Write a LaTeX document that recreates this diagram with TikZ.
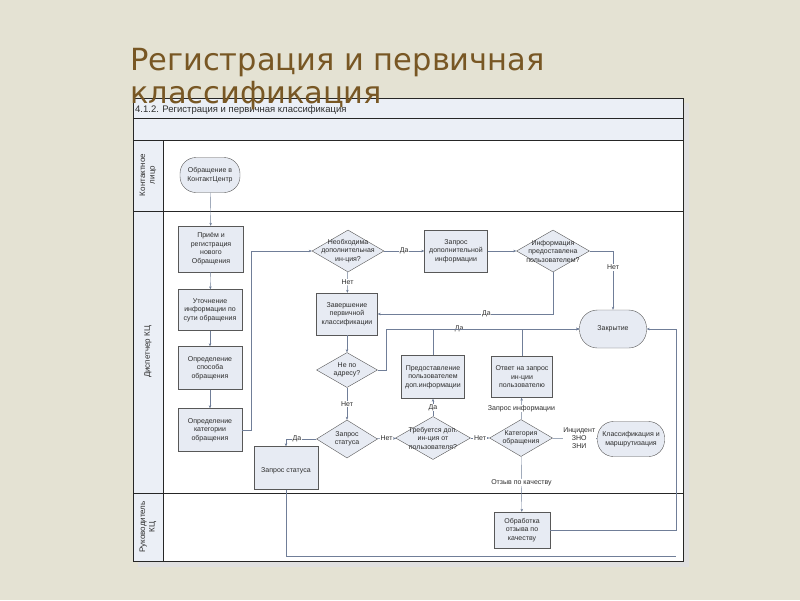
\documentclass[tikz,border=0pt]{standalone}
\usepackage{fontspec}
\setmainfont{Liberation Sans}
\newfontfamily\titlefont{DejaVu Sans}
\usetikzlibrary{shapes.geometric,arrows.meta}

\definecolor{paper}{RGB}{228,226,211}
\definecolor{titlebrown}{RGB}{120,87,36}
\definecolor{boxfill}{RGB}{231,235,243}
\definecolor{hdrfill}{RGB}{235,239,246}
\definecolor{linkcol}{RGB}{112,126,152}
\definecolor{edgecol}{RGB}{88,88,88}
\definecolor{inkcol}{RGB}{45,45,45}

\begin{document}
\begin{tikzpicture}[x=1pt,y=-1pt,
  proc/.style={draw=edgecol,fill=boxfill,align=center,text=inkcol,inner sep=0pt,
    font=\fontsize{7}{8.5}\selectfont},
  term/.style={proc,rounded corners=16pt},
  decision/.style={diamond,draw=edgecol,fill=boxfill,inner sep=0pt},
  dtext/.style={align=center,text=inkcol,inner sep=0pt,font=\fontsize{7}{8.5}\selectfont},
  link/.style={draw=linkcol,-{Stealth[length=3pt,width=2.5pt]}},
  lbl/.style={fill=white,text=inkcol,inner sep=0.6pt,align=center,
    font=\fontsize{7}{8}\selectfont},
  lane/.style={rotate=90,align=center,text=inkcol,font=\fontsize{8}{9.5}\selectfont}]
\useasboundingbox (0,0) rectangle (800,600);
\fill[paper] (0,0) rectangle (800,600);

% frame and swimlanes
\fill[black!12] (138,103) rectangle (689,567);
\fill[white] (133,98) rectangle (683,561);
\fill[hdrfill] (133,98) rectangle (683,140);
\fill[hdrfill] (133,140) rectangle (163,561);
\draw[black!85] (133,98) rectangle (683,561);
\draw[black!85] (133,118) -- (683,118);
\draw[black!85] (133,140) -- (683,140);
\draw[black!85] (133,211) -- (683,211);
\draw[black!85] (133,493) -- (683,493);
\draw[black!85] (163,140) -- (163,561);
\node[anchor=base west,inner sep=0pt,text=inkcol,font=\fontsize{9.5}{11}\selectfont] (hdr) at (135,112) {4.1.2. Регистрация и первичная классификация};
\node[lane] (lane1) at (148,175) {Контактное\\лицо};
\node[lane] (lane2) at (148,352) {Диспетчер КЦ};
\node[lane] (lane3) at (148,527) {Руководитель\\КЦ};

% steps
\node[term,minimum width=60,minimum height=35] (obr) at (210,175) {Обращение в\\КонтактЦентр};
\node[proc,minimum width=65,minimum height=46] (prm) at (211,249) {Приём и\\регистрация\\нового\\Обращения};
\node[proc,minimum width=64,minimum height=41] (utoch) at (210,310) {Уточнение\\информации по\\сути обращения};
\node[proc,minimum width=64,minimum height=43] (sposob) at (210,368) {Определение\\способа\\обращения};
\node[proc,minimum width=64,minimum height=43] (kateg) at (210,430) {Определение\\категории\\обращения};
\node[decision,minimum width=72,minimum height=42,
  label={[dtext]center:Необходима\\дополнительная\\ин-ция?}] (needinfo) at (348,251) {};
\node[proc,minimum width=63,minimum height=42] (reqinfo) at (456,251) {Запрос\\дополнительной\\информации};
\node[decision,minimum width=73,minimum height=42,
  label={[dtext]center:Информация\\предоставлена\\пользователем?}] (given) at (553,251) {};
\node[term,minimum width=67,minimum height=38,rounded corners=18pt] (close) at (613,329) {Закрытие};
\node[proc,minimum width=61,minimum height=42] (finish) at (347,314) {Завершение\\первичной\\классификации};
\node[decision,minimum width=61,minimum height=35,
  label={[dtext]center:Не по\\адресу?}] (notaddr) at (347,370) {};
\node[decision,minimum width=61,minimum height=38,
  label={[dtext]center:Запрос\\статуса}] (askstat) at (347,439) {};
\node[proc,minimum width=64,minimum height=43] (statbox) at (286,468) {\\[2pt]Запрос статуса};
\node[decision,minimum width=75,minimum height=43,
  label={[dtext]center:Требуется доп.\\ин-ция от\\пользователя?}] (needuser) at (433,438) {};
\node[proc,minimum width=63,minimum height=43] (provide) at (433,377) {Предоставление\\пользователем\\доп.информации};
\node[proc,minimum width=61,minimum height=41] (answer) at (522,377) {Ответ на запрос\\ин-ции\\пользователю};
\node[decision,minimum width=63,minimum height=37,
  label={[dtext]center:Категория\\обращения}] (categ) at (521,438) {};
\node[term,minimum width=67,minimum height=35,rounded corners=16pt] (route) at (631,439) {Классификация и\\маршрутизация};
\node[proc,minimum width=56,minimum height=36] (review) at (522,530) {Обработка\\отзыва по\\качеству};
\coordinate (rbus) at (676,556);

% connectors
\draw[link] (obr) -- (prm);
\draw[link] (prm) -- (utoch);
\draw[link] (utoch) -- (sposob);
\draw[link] (sposob) -- (kateg);
\draw[link] (kateg.east) -- ++(9,0) |- (needinfo.west);
\draw[link] (needinfo) -- node[lbl] {Да} (reqinfo);
\draw[link] (needinfo) -- node[lbl] {Нет} (finish);
\draw[link] (reqinfo) -- (given);
\draw[link] (given.east) -| node[lbl,pos=0.64] {Нет} (close.north);
\draw[link] (given.south) |- node[lbl,pos=0.69] {Да} (finish.east);
\draw[link] (finish) -- (notaddr);
\draw[link] (notaddr.east) -- ++(8,0) |- node[lbl,pos=0.69] {Да} (close.west);
\draw[link] (provide.north) |- (close.west);
\draw[link] (answer.north) |- (close.west);
\draw[link] (notaddr) -- node[lbl] {Нет} (askstat);
\draw[link] (askstat.west) -| node[lbl,pos=0.32] {Да} (statbox.north);
\draw[link] (askstat) -- node[lbl] {Нет} (needuser);
\draw[link] (needuser) -- node[lbl] {Да} (provide);
\draw[link] (needuser) -- node[lbl] {Нет} (categ);
\draw[link] (categ) -- node[lbl] {Запрос информации} (answer);
\draw[link] (categ) -- node[lbl,pos=0.6] {Инцидент\\ЗНО\\ЗНИ} (route);
\draw[link] (categ) -- node[lbl,pos=0.47] {Отзыв по качеству} (review);
\draw[link] (review.east) -- (review.east -| rbus) |- (close.east);
\draw[draw=linkcol] (statbox.south) |- (rbus);

% title
\node[anchor=base west,inner sep=0pt,text=titlebrown,font=\titlefont\fontsize{30.5}{33}\selectfont] (title1) at (130,70) {Регистрация и первичная};
\node[anchor=base west,inner sep=0pt,text=titlebrown,font=\titlefont\fontsize{30.5}{33}\selectfont] (title2) at (130,103) {классификация};
\end{tikzpicture}
\end{document}
